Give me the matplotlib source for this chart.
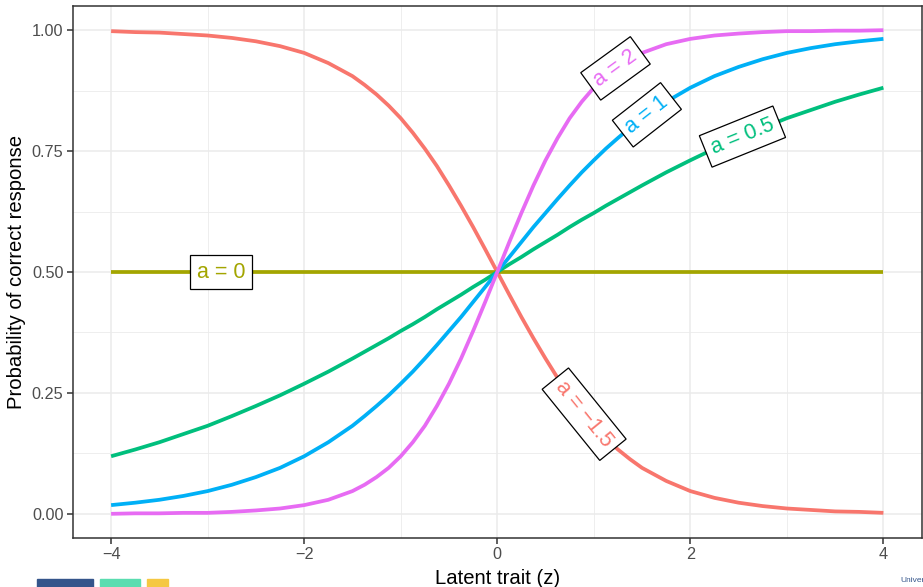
import matplotlib.pyplot as plt
from matplotlib.patches import Rectangle

plt.rcParams['font.family'] = ['Liberation Sans', 'DejaVu Sans']

z = [-4.0, -3.75, -3.5, -3.25, -3.0, -2.75, -2.5, -2.25, -2.0, -1.75, -1.5,
     -1.375, -1.25, -1.125, -1.0, -0.875, -0.75, -0.625, -0.5, -0.375, -0.25, -0.125,
     0.0, 0.125, 0.25, 0.375, 0.5, 0.625, 0.75, 0.875, 1.0, 1.125, 1.25, 1.375,
     1.5, 1.75, 2.0, 2.25, 2.5, 2.75, 3.0, 3.25, 3.5, 3.75, 4.0]

# probability of a correct response for each discrimination value a
p_neg15 = [0.998, 0.996, 0.995, 0.992, 0.989, 0.984, 0.977, 0.967, 0.953, 0.932, 0.905,
           0.887, 0.867, 0.844, 0.818, 0.788, 0.755, 0.719, 0.679, 0.637, 0.593, 0.547,
           0.500, 0.453, 0.407, 0.363, 0.321, 0.281, 0.245, 0.212, 0.182, 0.156, 0.133, 0.113,
           0.095, 0.068, 0.047, 0.033, 0.023, 0.016, 0.011, 0.008, 0.005, 0.004, 0.002]
p_05 = [0.119, 0.133, 0.148, 0.165, 0.182, 0.202, 0.223, 0.245, 0.269, 0.294, 0.321,
        0.335, 0.349, 0.363, 0.378, 0.392, 0.407, 0.423, 0.438, 0.453, 0.469, 0.484,
        0.500, 0.516, 0.531, 0.547, 0.562, 0.577, 0.593, 0.608, 0.622, 0.637, 0.651, 0.665,
        0.679, 0.706, 0.731, 0.755, 0.777, 0.798, 0.818, 0.835, 0.852, 0.867, 0.881]
p_1 = [0.018, 0.023, 0.029, 0.037, 0.047, 0.060, 0.076, 0.095, 0.119, 0.148, 0.182,
       0.202, 0.223, 0.245, 0.269, 0.294, 0.321, 0.349, 0.378, 0.407, 0.438, 0.469,
       0.500, 0.531, 0.562, 0.593, 0.622, 0.651, 0.679, 0.706, 0.731, 0.755, 0.777, 0.798,
       0.818, 0.852, 0.881, 0.905, 0.924, 0.940, 0.953, 0.963, 0.971, 0.977, 0.982]
p_2 = [0.000, 0.001, 0.001, 0.002, 0.002, 0.004, 0.007, 0.011, 0.018, 0.029, 0.047,
       0.060, 0.076, 0.095, 0.119, 0.148, 0.182, 0.223, 0.269, 0.321, 0.378, 0.438,
       0.500, 0.562, 0.622, 0.679, 0.731, 0.777, 0.818, 0.852, 0.881, 0.905, 0.924, 0.940,
       0.953, 0.971, 0.982, 0.989, 0.993, 0.996, 0.998, 0.998, 0.999, 0.999, 1.000]
z_flat = [-4.0, 4.0]
p_0 = [0.5, 0.5]

labels = ['a = \u22121.5', 'a = 0', 'a = 0.5', 'a = 1', 'a = 2']
colors = ['#F8766D', '#A3A500', '#00BF7D', '#00B0F6', '#E76BF3']

# where each label sits on its curve (z, p) and its angle
label_pos = [(0.90, 0.206), (-2.86, 0.5), (2.54, 0.780), (1.55, 0.825), (1.225, 0.921)]
label_rot = [-51, 0, 22, 38, 36]

fig = plt.figure(figsize=(9.23, 5.87), dpi=100)
ax = fig.add_axes([72.5 / 923, 1 - 538 / 587, (922 - 72.5) / 923, 532 / 587])

series = [(z, p_neg15), (z_flat, p_0), (z, p_05), (z, p_1), (z, p_2)]
for (xs, ys), col in zip(series, colors):
    ax.plot(xs, ys, color=col, lw=2.7, solid_capstyle='butt',
            solid_joinstyle='round', zorder=3)

for lab, (lx, ly), rot, col in zip(labels, label_pos, label_rot, colors):
    ax.text(lx, ly, lab, color=col, fontsize=15.5, rotation=rot,
            rotation_mode='anchor', ha='center', va='center', zorder=5,
            bbox=dict(boxstyle='square,pad=0.3', fc='white', ec='black', lw=0.9))

ax.set_xlim(-4.4, 4.4)
ax.set_ylim(-0.05, 1.05)
ax.set_xticks([-4, -2, 0, 2, 4])
ax.set_xticklabels(['\u22124', '\u22122', '0', '2', '4'])
ax.set_yticks([0, 0.25, 0.5, 0.75, 1.0])
ax.set_yticklabels(['0.00', '0.25', '0.50', '0.75', '1.00'])
ax.set_xticks([-3, -1, 1, 3], minor=True)
ax.set_yticks([0.125, 0.375, 0.625, 0.875], minor=True)
ax.grid(which='major', color='#EBEBEB', lw=1.1, zorder=0)
ax.grid(which='minor', color='#EBEBEB', lw=0.6, zorder=0)
ax.tick_params(which='major', length=4, width=1.1, color='#333333',
               labelsize=11.7, labelcolor='#4D4D4D', pad=2.5)
ax.tick_params(which='minor', length=0)
for s in ax.spines.values():
    s.set_color('#333333')
    s.set_linewidth(1.1)
ax.set_axisbelow(True)

ax.set_xlabel('Latent trait (z)', fontsize=14.6, labelpad=5)
ax.set_ylabel('Probability of correct response', fontsize=14.6, labelpad=4)

# slide footer pieces visible at the bottom edge
fig.patches.append(Rectangle((37 / 923, 0), 56 / 923, 8 / 587, transform=fig.transFigure,
                             color='#34558B'))
fig.patches.append(Rectangle((100 / 923, 0), 40 / 923, 8 / 587, transform=fig.transFigure,
                             color='#5ADDB0'))
fig.patches.append(Rectangle((147 / 923, 0), 21 / 923, 8 / 587, transform=fig.transFigure,
                             color='#F5C842'))
fig.text(900 / 923, 6 / 587, 'Univer', fontsize=6, color='#34558B', va='center')

fig.savefig('out.png', dpi=100)
